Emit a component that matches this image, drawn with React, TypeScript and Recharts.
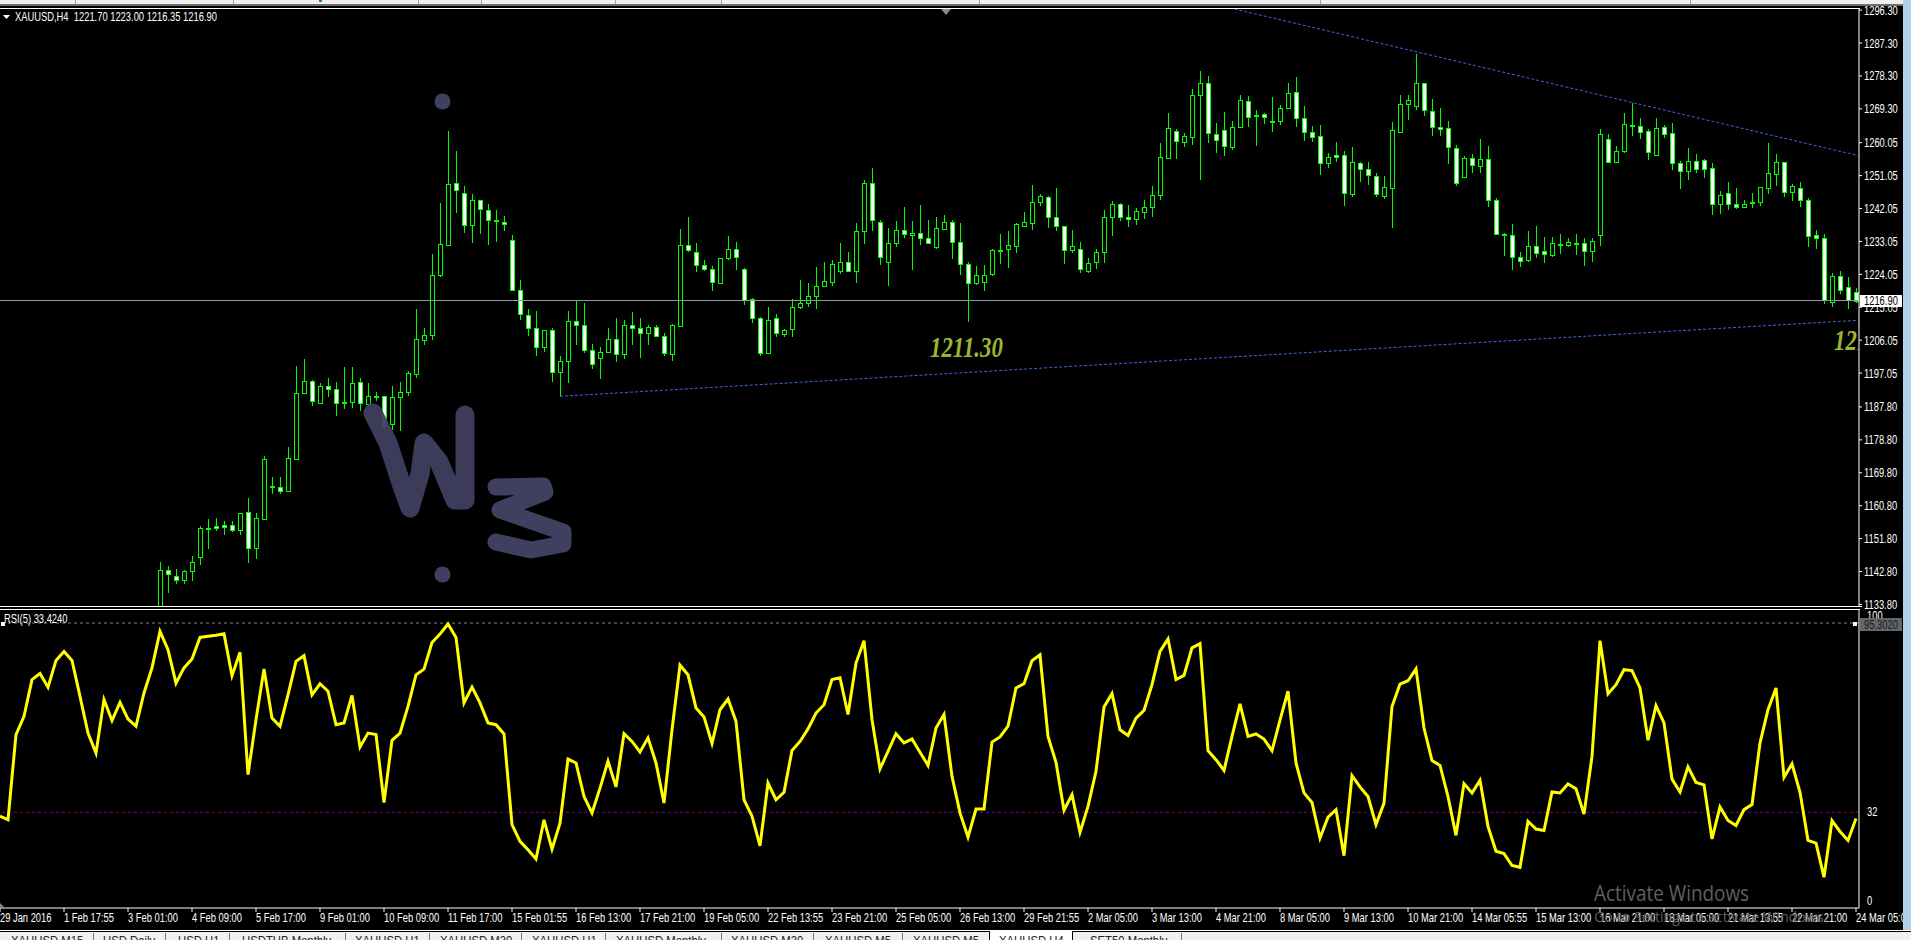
import { Bar, ComposedChart, Line, LineChart, ReferenceLine, XAxis, YAxis } from 'recharts';

// bar index of the first candle that reaches into the price pane
const firstCandle = 19;

const opens = [
  1126,
  1130, 1143.2, 1141.7, 1140.5, 1143, 1146.8, 1154.7, 1155.3, 1155.6, 1155.5,
  1154.1, 1159.2, 1149.3, 1157.2, 1166.1, 1165.9, 1164.8, 1173.6, 1191.5, 1195,
  1188.8, 1193.4, 1192.8, 1189, 1189.2, 1194.7, 1188.7, 1190.7, 1190.7, 1183.1,
  1190.4, 1192, 1196.9, 1206.2, 1207.6, 1223.9, 1232.2, 1248.9, 1246.4, 1237.5,
  1244.3, 1241.7, 1238.7, 1238.4, 1233.4, 1219.8, 1213, 1209.4, 1204.1, 1208.7,
  1197.4, 1200.4, 1211.2, 1210.3, 1203.4, 1201.3, 1202.9, 1206.3, 1202.2, 1210.1,
  1209.5, 1208.1, 1209.7, 1207.2, 1202.4, 1210, 1232, 1230.2, 1226.5, 1225.4,
  1221.7, 1228.4, 1231.1, 1225.4, 1217.2, 1212.2, 1202.6, 1212, 1207.8, 1209.1,
  1215, 1216.1, 1218.2, 1221, 1222, 1225, 1227.3, 1225, 1235.8, 1248.9,
  1238.5, 1227.5, 1232.5, 1236.2, 1234.9, 1235.4, 1234.1, 1231.6, 1236.5, 1238.5,
  1233, 1226.8, 1221.7, 1222, 1224.1, 1230.6, 1231, 1231.9, 1237.3, 1238.2,
  1243.9, 1245.3, 1239.6, 1237.3, 1230.6, 1231, 1225, 1227.3, 1230.2, 1239.8,
  1243.2, 1239.8, 1239.1, 1241, 1242.4, 1245.8, 1255.9, 1263.2, 1260.1, 1261.7,
  1273.2, 1276.3, 1262.5, 1263.4, 1259, 1264.4, 1271.4, 1267.4, 1267.8, 1266,
  1265.9, 1269.5, 1273.8, 1266.7, 1262.9, 1261.8, 1254.4, 1256.6, 1256.6, 1246.1,
  1254.6, 1252.8, 1251, 1245.6, 1247.6, 1263, 1270.5, 1270.2, 1276.3, 1268.8,
  1264.3, 1264, 1258.7, 1250.8, 1255.8, 1253.8, 1255.5, 1244.3, 1235.1, 1234.7,
  1228.7, 1227.9, 1231.7, 1230.3, 1229.4, 1232.2, 1232, 1232.6, 1232.5, 1230.5,
  1234.8, 1261, 1254.9, 1257.9, 1264.8, 1264.7, 1263.3, 1256.7, 1264.3, 1262.6,
  1254.6, 1252.4, 1255.1, 1255.2, 1253, 1243.2, 1246.2, 1243.3, 1242.4, 1243.7,
  1243.7, 1247.7, 1251.6, 1254.9, 1246.6, 1247.6, 1244.5, 1234.7, 1234.1, 1216.5,
  1223.7, 1220.5, 1219.2,
];

const highs = [
  1133.3,
  1145.3, 1144.4, 1143.6, 1143.3, 1147.1, 1155.2, 1157.1, 1157.4, 1156.5, 1156.6,
  1158.9, 1163, 1158.9, 1174.4, 1168.6, 1168.6, 1176.9, 1198.9, 1200.9, 1195.3,
  1194.4, 1195.7, 1194.7, 1198.7, 1198.8, 1195.6, 1194.4, 1192, 1190.9, 1193.4,
  1194.7, 1197.6, 1214.5, 1209.5, 1229.7, 1243.6, 1263.2, 1257.8, 1248.3, 1246.1,
  1244.5, 1243.2, 1241.7, 1240.1, 1234.8, 1222.5, 1214.5, 1213.9, 1208.7, 1209.3,
  1201.7, 1213.9, 1216.9, 1216.1, 1205, 1204.1, 1209.5, 1212, 1211.7, 1213.7,
  1212, 1210.1, 1210.1, 1207.9, 1210.4, 1236.4, 1239.6, 1232.5, 1228.1, 1226.3,
  1228.4, 1234.5, 1232.9, 1225.9, 1217.7, 1212.4, 1215, 1213.2, 1209.2, 1217.2,
  1222.6, 1221.8, 1226.1, 1227.4, 1228.1, 1232.6, 1230.2, 1238, 1249.8, 1253,
  1238.9, 1236.6, 1238.6, 1242.4, 1238.6, 1243, 1238.9, 1239.6, 1240.3, 1238.9,
  1238.1, 1227.5, 1226.3, 1226.5, 1230.9, 1235.2, 1235.9, 1238, 1241.1, 1248.5,
  1246, 1245.5, 1247.6, 1237.4, 1236.3, 1232.8, 1228.4, 1230.9, 1241.6, 1244,
  1243.5, 1243, 1242.1, 1244.4, 1248.2, 1259.9, 1268.1, 1263.7, 1262.6, 1274.7,
  1279.7, 1278.3, 1265.3, 1268.5, 1265.9, 1273.1, 1272.8, 1269, 1268.1, 1272.6,
  1270.3, 1276.3, 1277.9, 1270.1, 1264.6, 1264.9, 1257.1, 1260.1, 1257.8, 1258.8,
  1254.9, 1254.9, 1251.8, 1250.9, 1265.6, 1273, 1273.1, 1284.3, 1276.5, 1271.9,
  1269.5, 1265.9, 1259.3, 1256.4, 1256.9, 1261, 1259.1, 1244.8, 1235.4, 1237.8,
  1230.2, 1235.9, 1237.2, 1234.2, 1234.2, 1235.1, 1233.9, 1235.2, 1234.1, 1234.1,
  1263.7, 1262.4, 1259.1, 1268.1, 1270.8, 1266.7, 1263.7, 1266.7, 1264.9, 1265.3,
  1255.1, 1258.5, 1256.9, 1255.5, 1254.4, 1246.9, 1249.3, 1247.6, 1244.5, 1246.2,
  1247.8, 1259.9, 1257, 1254.9, 1248.7, 1249.2, 1244.8, 1236.2, 1235, 1224.3,
  1224.9, 1223.2, 1220.2,
];

const lows = [
  1124,
  1128, 1136.8, 1139.4, 1139.4, 1140.3, 1144.6, 1148.9, 1153.9, 1152.9, 1153.7,
  1152.9, 1145, 1146.2, 1157.2, 1164.1, 1164.1, 1164.6, 1173.6, 1191.5, 1188.1,
  1188.6, 1190.4, 1185.3, 1187.2, 1187.5, 1186.8, 1188, 1189.5, 1181.2, 1181.6,
  1181.2, 1190.9, 1195.8, 1204.8, 1206.1, 1223.4, 1232.2, 1240.7, 1235.3, 1232.5,
  1235.1, 1232.1, 1232.9, 1235.9, 1219.6, 1211.7, 1207.2, 1201.7, 1202.8, 1194.7,
  1190.7, 1194.4, 1204.8, 1202.6, 1198.3, 1195.5, 1202.8, 1200.1, 1201, 1204.8,
  1201.3, 1204.7, 1207, 1201.8, 1200.4, 1209.7, 1230.2, 1224.7, 1225, 1219.5,
  1221.7, 1228.1, 1225.2, 1215.6, 1210.8, 1201.7, 1202.4, 1207, 1206.8, 1207,
  1214.5, 1215.2, 1214.5, 1220.6, 1220.9, 1224.1, 1224.7, 1221.6, 1232.3, 1235.9,
  1226.7, 1220.9, 1231.4, 1234.1, 1225.2, 1232, 1232.3, 1231.1, 1236.2, 1228.2,
  1223.8, 1211.1, 1221.1, 1219.5, 1223.6, 1227, 1225.7, 1229.8, 1237.1, 1236.2,
  1242.7, 1236.8, 1235.9, 1226.8, 1229.8, 1224.5, 1224.5, 1225.4, 1227.2, 1234.6,
  1238.7, 1237.1, 1237.5, 1239.2, 1239.8, 1244.4, 1255.9, 1255.6, 1259, 1259.4,
  1249.8, 1259.9, 1257.3, 1256.4, 1258, 1264.4, 1264.3, 1259.1, 1265.2, 1263.1,
  1264.9, 1269.2, 1264.4, 1260.6, 1260.1, 1251.2, 1253.2, 1254.9, 1242.8, 1245.3,
  1249.4, 1248.5, 1245.3, 1244.7, 1236.8, 1262.6, 1266.3, 1269, 1267.4, 1262,
  1262, 1254.3, 1248.3, 1250.6, 1251.8, 1251.7, 1242.5, 1235.2, 1229, 1225.2,
  1226.1, 1227.5, 1228.4, 1227.2, 1228.7, 1229.6, 1231.4, 1229.3, 1226.4, 1227.5,
  1231.8, 1254.6, 1254.4, 1257.3, 1262, 1261.1, 1255.3, 1256.4, 1261.4, 1252.6,
  1247.4, 1249.8, 1251.8, 1250.5, 1240.3, 1240.5, 1241.6, 1241.8, 1242.2, 1242.2,
  1242.7, 1246, 1248.2, 1245.3, 1244.1, 1242.5, 1231.4, 1231, 1215.9, 1215.2,
  1218.6, 1214.5, 1216.35,
];

const closes = [
  1131,
  1143.3, 1142.2, 1140.6, 1143, 1145.5, 1154.6, 1154.8, 1154.7, 1155, 1154.1,
  1158.9, 1149.3, 1157.3, 1173.7, 1166.2, 1164.9, 1173.9, 1191.5, 1195, 1189.5,
  1193.5, 1192.8, 1188.8, 1189.1, 1194.4, 1188.8, 1190.9, 1190.8, 1182.3, 1190.4,
  1192, 1197.2, 1206.3, 1207.4, 1224, 1232.3, 1248.7, 1247.2, 1237.5, 1244.3,
  1241.9, 1238.9, 1238.8, 1237.7, 1219.9, 1213.1, 1209.5, 1204.3, 1208.7, 1197.4,
  1200.4, 1211.2, 1210.3, 1203.5, 1199.6, 1202.9, 1206.5, 1202.4, 1210.1, 1209.4,
  1208.1, 1209.7, 1207.3, 1202.6, 1210.1, 1232.2, 1230.8, 1226.5, 1225.4, 1222,
  1228.4, 1231.1, 1228.9, 1217, 1212.2, 1202.6, 1211.7, 1207.9, 1208.7, 1215,
  1216.1, 1218, 1221, 1222.1, 1227, 1227.3, 1225, 1235.8, 1248.9, 1238.8,
  1228.7, 1232.5, 1236.3, 1235, 1235.4, 1234.1, 1232.7, 1236.6, 1238.5, 1232.8,
  1226.8, 1221.6, 1223.9, 1223.9, 1230.6, 1230.8, 1232.1, 1237.7, 1238.5, 1243.7,
  1245.4, 1239.6, 1237.3, 1230.6, 1231.9, 1225.4, 1227.2, 1230.2, 1239.8, 1243.2,
  1239.6, 1239.1, 1241.3, 1242.4, 1245.8, 1256, 1264, 1260.4, 1261.8, 1273.2,
  1276.3, 1262.6, 1260.7, 1259.1, 1264.3, 1271.7, 1267.2, 1267.5, 1267.2, 1266.1,
  1269.5, 1273.6, 1266.7, 1262.9, 1261.5, 1254.4, 1256, 1256, 1246.2, 1254.7,
  1252.9, 1251.1, 1245.9, 1247.8, 1263.4, 1270.5, 1271.7, 1276.3, 1268.9, 1264.4,
  1263.7, 1258.8, 1249.1, 1255.8, 1253.9, 1255.5, 1244.3, 1235.2, 1235, 1228.7,
  1227.8, 1231.7, 1229.9, 1229.7, 1232.5, 1232.3, 1232.8, 1232.7, 1230.5, 1233.3,
  1262.3, 1254.9, 1257.9, 1265.1, 1264.9, 1263.1, 1257.6, 1264.2, 1262.5, 1254.6,
  1252.4, 1255.1, 1252.9, 1252.9, 1243.2, 1245.8, 1243.2, 1242.4, 1243.4, 1243.8,
  1247.8, 1251.7, 1254.9, 1246.6, 1248.1, 1244.5, 1234.6, 1234.1, 1217, 1223.7,
  1219.7, 1217, 1216.9,
];

const rsiValues = [
  30.7, 29.5, 58, 64.1, 76.4, 78.4, 73.8, 82.8, 85.8, 82.8,
  70.8, 58.5, 51.8, 69.7, 62.7, 68.8, 63.2, 60.8, 71.9, 80.3,
  92.5, 86.4, 75.2, 80.3, 83.3, 90.5, 90.9, 91.2, 91.7, 77.7,
  85.5, 44.6, 63, 79.9, 63.5, 60.8, 71.3, 82.5, 84.4, 71.3,
  75, 72.5, 61.3, 61.9, 71.1, 53.8, 58.5, 58, 35.3, 56.1,
  58.5, 67.4, 78, 79.9, 88.8, 91.6, 95, 90.5, 68.6, 73.9,
  68.6, 61.9, 61.3, 58.2, 27.9, 22.3, 19.5, 16.4, 29.5, 19.7,
  28.4, 49.8, 48.5, 37.3, 31.8, 40.1, 49.1, 40.5, 58.3, 55.7,
  52.2, 56.9, 48.5, 35.1, 59.6, 81.2, 78, 66.9, 63.9, 55,
  66.3, 69.9, 62.4, 36.2, 30.7, 20.8, 41.8, 36.2, 38.7, 52.7,
  55.7, 59.9, 65.2, 68, 76.4, 77, 64.7, 81.9, 89.4, 63,
  46.5, 52.4, 58.3, 55.2, 56.5, 52.1, 47.7, 60.2, 64.7, 44,
  31.8, 23.7, 33.1, 33.1, 55.5, 57.2, 60.8, 73.6, 75, 82.7,
  84.7, 57.4, 48.7, 32.7, 37.9, 25.3, 34, 45.7, 67.2, 71.7,
  59.6, 57.7, 63.5, 66.1, 74.7, 85.8, 90, 76.4, 77.8, 87,
  88.4, 52.6, 49.6, 46, 57.4, 68.3, 57.4, 58.2, 56.5, 52.6,
  62.8, 72.5, 48.5, 38.5, 35.3, 23.4, 30.4, 32.9, 17.5, 44.3,
  40.5, 37.3, 27.9, 35.1, 67.4, 74.9, 76, 80, 60.2, 49.3,
  47.7, 37.3, 24.3, 41.6, 38.5, 42.7, 27.3, 19, 18.2, 14.2,
  13.6, 29, 26.4, 25.9, 38.8, 38.5, 41.5, 39.9, 31.4, 50.7,
  89.4, 71.6, 74.7, 79.7, 79.4, 73.6, 56.1, 67.7, 61.9, 43.1,
  38.8, 47.2, 42, 41.2, 23.1, 33.8, 29.3, 27.6, 32.9, 34.6,
  55.2, 66.3, 73.6, 43.7, 48.2, 38.7, 22.6, 21.7, 10.3, 29.2,
  25.6, 22.6, 29.9,
];

const priceTicks = [
  1296.3, 1287.3, 1278.3, 1269.3, 1260.05, 1251.05, 1242.05, 1233.05, 1224.05, 1215.05,
  1206.05, 1197.05, 1187.8, 1178.8, 1169.8, 1160.8, 1151.8, 1142.8, 1133.8,
];
const rsiTicks = [0, 32, 100];
const timeLabels = [
  '29 Jan 2016', '1 Feb 17:55', '3 Feb 01:00', '4 Feb 09:00', '5 Feb 17:00', '9 Feb 01:00',
  '10 Feb 09:00', '11 Feb 17:00', '15 Feb 01:55', '16 Feb 13:00', '17 Feb 21:00', '19 Feb 05:00',
  '22 Feb 13:55', '23 Feb 21:00', '25 Feb 05:00', '26 Feb 13:00', '29 Feb 21:55', '2 Mar 05:00',
  '3 Mar 13:00', '4 Mar 21:00', '8 Mar 05:00', '9 Mar 13:00', '10 Mar 21:00', '14 Mar 05:55',
  '15 Mar 13:00', '16 Mar 21:00', '18 Mar 05:00', '21 Mar 13:55', '22 Mar 21:00', '24 Mar 05:00',
];
const timeTicks = timeLabels.map((_, k) => k * 8);

const tabs = [
  ['XAUUSD,M15', 11], ['USD,Daily', 103], ['USD,H1', 178], ['USDTHB,Monthly', 242], ['XAUUSD,H1', 355],
  ['XAUUSD,M30', 440], ['XAUUSD,H1', 532], ['XAUUSD,Monthly', 616], ['XAUUSD,M30', 731],
  ['XAUUSD,M5', 825], ['XAUUSD,M5', 913], ['XAUUSD,H4', 999], ['SET50,Monthly', 1090],
] as const;
const tabDividers = [93, 165, 229, 345, 429, 521, 605, 721, 813, 902, 1181];
const toolbarDividers = [75, 233, 418, 481, 615, 721, 979, 1320, 1690];

// freehand "W3" scribble on top of the chart, in page pixels
const inkW = '373,413 388,443 402,486 410,508 420,474 424,443 439,462 455,500 465,500 465,415';
const inkThree = '496,487 543,486 545,492 500,510 563,532 563,544 531,550 496,542';

const candles = opens.map((open, k) => ({
  bar: firstCandle + k,
  open,
  high: highs[k],
  low: lows[k],
  close: closes[k],
}));
const rsiData = rsiValues.map((rsi, bar) => ({ bar, rsi }));

const xDomain = [0, 232.375];
const uiFont = '"Liberation Sans", sans-serif';
const squeeze = 0.72;
const green = '#00ff00';
const ink = '#3f3f5f';

const Candle = (props: any) => {
  const { x, y, width, height, payload } = props;
  const perUnit = height / (payload.high - payload.low);
  const cx = Math.floor(x + width / 2) + 0.5;
  const top = y + (payload.high - Math.max(payload.open, payload.close)) * perUnit;
  const bottom = y + (payload.high - Math.min(payload.open, payload.close)) * perUnit;
  const falling = payload.close < payload.open;
  return (
    <g shapeRendering="crispEdges">
      <line x1={cx} x2={cx} y1={y} y2={y + height} stroke={green} />
      <rect
        x={cx - 2}
        y={Math.round(top) + 0.5}
        width={4}
        height={Math.max(Math.round(bottom) - Math.round(top), 1)}
        fill={falling ? '#fff' : '#000'}
        stroke={green}
        strokeWidth={1}
      />
    </g>
  );
};

const AxisText = ({ x, y, children }: any) => (
  <text transform={`translate(${x} ${y}) scale(${squeeze} 1)`} fill="#fff" fontSize={13} fontFamily={uiFont}>
    {children}
  </text>
);

const PriceTick = ({ x, y, payload }: any) => (
  <AxisText x={x} y={y + 4.5}>
    {payload.value.toFixed(2)}
  </AxisText>
);

const RsiTick = ({ x, y, payload }: any) => {
  const shift = payload.value === 100 ? 11 : payload.value === 0 ? -3 : 4;
  return (
    <AxisText x={x} y={y + shift}>
      {payload.value}
    </AxisText>
  );
};

const TimeTick = ({ x, y, payload }: any) => (
  <AxisText x={x} y={y + 10}>
    {timeLabels[payload.value / 8]}
  </AxisText>
);

const abs = (left: number, top: number, width: number, height: number, background: string) => ({
  position: 'absolute' as const,
  left,
  top,
  width,
  height,
  background,
});

const label = (left: number, top: number, color: string) => ({
  position: 'absolute' as const,
  left,
  top,
  color,
  font: `13px ${uiFont}`,
  whiteSpace: 'nowrap' as const,
  lineHeight: '14px',
  transform: `scaleX(${squeeze})`,
  transformOrigin: 'left top',
});

const serifNote = {
  color: '#9fb52e',
  font: 'italic bold 24px "Liberation Serif", serif',
  lineHeight: '28px',
  whiteSpace: 'nowrap' as const,
  transform: 'scale(0.95, 1.2)',
  transformOrigin: 'left center',
};

export default function App() {
  return (
    <div style={{ position: 'fixed', left: 0, top: 0, width: 1911, height: 940, background: '#000', overflow: 'hidden' }}>
      {/* price pane */}
      <div style={{ position: 'absolute', left: 0, top: 0 }}>
        <ComposedChart width={1903} height={609} data={candles} margin={{ top: 9, right: 0, bottom: 2, left: 0 }}>
          <XAxis dataKey="bar" type="number" domain={xDomain} allowDataOverflow hide />
          <YAxis
            orientation="right"
            width={44}
            domain={[1133.1, 1296.6]}
            allowDataOverflow
            ticks={priceTicks}
            interval={0}
            axisLine={{ stroke: '#fff' }}
            tickLine={{ stroke: '#fff' }}
            tickSize={3}
            tickMargin={2}
            tick={<PriceTick />}
          />
          <ReferenceLine y={1216.9} stroke="#8a99a8" />
          <ReferenceLine
            segment={[{ x: 154.3, y: 1296.6 }, { x: 232.3, y: 1256.5 }]}
            stroke="#3f62e8"
            strokeDasharray="3 2"
          />
          <ReferenceLine
            segment={[{ x: 70, y: 1190.7 }, { x: 232.3, y: 1211.5 }]}
            stroke="#3f62e8"
            strokeDasharray="3 2"
          />
          <Bar dataKey={(d: any) => [d.low, d.high]} barSize={6} shape={<Candle />} isAnimationActive={false} />
        </ComposedChart>
      </div>

      {/* RSI pane */}
      <div style={{ position: 'absolute', left: 0, top: 609 }}>
        <LineChart width={1903} height={321} data={rsiData} margin={{ top: 0, right: 0, bottom: 0, left: 0 }}>
          <XAxis
            dataKey="bar"
            type="number"
            domain={xDomain}
            allowDataOverflow
            ticks={timeTicks}
            interval={0}
            height={22}
            axisLine={{ stroke: '#fff' }}
            tickLine={{ stroke: '#fff' }}
            tickSize={4}
            tickMargin={0}
            tick={<TimeTick />}
          />
          <YAxis
            orientation="right"
            width={44}
            domain={[0, 100]}
            ticks={rsiTicks}
            interval={0}
            axisLine={{ stroke: '#fff' }}
            tickLine={false}
            tickMargin={2}
            tick={<RsiTick />}
          />
          <ReferenceLine y={95.302} stroke="#808080" strokeDasharray="3 3" />
          <ReferenceLine y={32} stroke="#800080" strokeDasharray="3 3" />
          <Line dataKey="rsi" type="linear" stroke="#ffff00" strokeWidth={3} dot={false} isAnimationActive={false} />
        </LineChart>
      </div>

      {/* pane frames */}
      <div style={abs(0, 8, 1860, 1, '#fff')} />
      <div style={abs(0, 606, 1862, 1, '#fff')} />
      <div style={abs(0, 609, 1860, 1, '#fff')} />

      {/* window chrome */}
      <div style={abs(0, 0, 1911, 4, '#f0f0f0')} />
      <div style={abs(0, 4, 1903, 2, '#6e6e6e')} />
      {toolbarDividers.map((x) => (
        <div key={x} style={abs(x, 0, 1, 4, '#a0a0a0')} />
      ))}
      <div style={abs(319, 0, 3, 2, '#0a9a2a')} />
      <div style={abs(1903, 0, 8, 930, '#b4d0ea')} />
      <div style={abs(0, 930, 1911, 1, '#fff')} />
      <div style={abs(0, 932, 1911, 8, '#f0f0f0')} />
      {tabDividers.map((x) => (
        <div key={x} style={abs(x, 933, 1, 7, '#777')} />
      ))}
      <div style={{ ...abs(989, 931, 84, 9, '#fff'), borderLeft: '1px solid #000', borderRight: '1px solid #000', boxSizing: 'border-box' }} />
      {tabs.map(([name, x], k) => (
        <div key={k} style={{ ...label(x, 934, '#222'), transform: 'scaleX(0.87)' }}>
          {name}
        </div>
      ))}

      {/* chart captions */}
      <svg style={{ position: 'absolute', left: 0, top: 0, pointerEvents: 'none' }} width={1911} height={940}>
        <polygon points="3,15 10,15 6.5,19" fill="#fff" />
        <polygon points="941,9 951,9 946,15" fill="#7e8a96" />
        <polygon points="0,903 5,908 0,908" fill="#7e8a96" />
        <rect x={1} y={622} width={4} height={4} fill="#fff" />
        <rect x={1853} y={622} width={4} height={4} fill="#fff" />
        <circle cx={442.5} cy={101.5} r={8} fill={ink} />
        <circle cx={442.5} cy={574.5} r={8} fill={ink} />
        <polyline points={inkW} fill="none" stroke={ink} strokeWidth={19} strokeLinejoin="round" strokeLinecap="round" opacity={0.95} />
        <polyline points={inkThree} fill="none" stroke={ink} strokeWidth={17} strokeLinejoin="round" strokeLinecap="round" />
      </svg>

      <div style={label(15, 10, '#fff')}>XAUUSD,H4&nbsp; 1221.70 1223.00 1216.35 1216.90</div>
      <div style={label(4, 612, '#fff')}>RSI(5) 33.4240</div>

      <div style={{ ...serifNote, position: 'absolute', left: 930, top: 333 }}>1211.30</div>
      <div style={{ position: 'absolute', left: 1834, top: 322, width: 25, height: 36, overflow: 'hidden' }}>
        <div style={{ ...serifNote, marginTop: 4 }}>1211.30</div>
      </div>

      <div style={abs(1860, 295, 42, 12, '#fff')} />
      <div style={label(1864, 294, '#000')}>1216.90</div>
      <div style={abs(1860, 618, 42, 13, '#666')} />
      <div style={label(1864, 618, '#0a1e33')}>95.3020</div>

      <div style={{ position: 'absolute', left: 1594, top: 879, color: '#5f5f5f', font: '21px "Open Sans", sans-serif', whiteSpace: 'nowrap', transform: 'scaleX(0.9)', transformOrigin: 'left top' }}>Activate Windows</div>
      <div style={{ position: 'absolute', left: 1594, top: 906, color: '#5f5f5f', font: '15px "Open Sans", sans-serif', whiteSpace: 'nowrap', transform: 'scaleX(0.95)', transformOrigin: 'left top' }}>Go to Settings to activate Windows.</div>
    </div>
  );
}
